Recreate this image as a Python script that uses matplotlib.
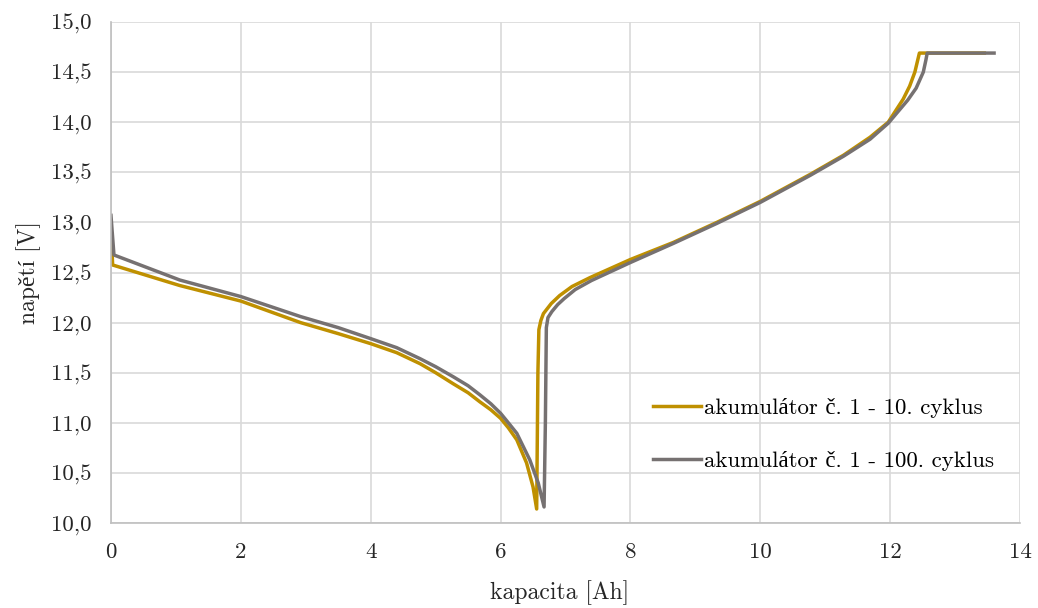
import matplotlib
matplotlib.use("Agg")
import matplotlib.pyplot as plt
from matplotlib.ticker import FuncFormatter

plt.rcParams['font.family'] = ['cmr10', 'Liberation Serif']
plt.rcParams['axes.formatter.use_mathtext'] = True

# akumulátor č. 1 - 10. cyklus
cap_10 = [0.0, 0.026, 1.06, 2.0, 2.92, 3.5, 4.0, 4.4, 4.76, 5.0, 5.27, 5.5, 5.68, 5.85, 6.0,
          6.12, 6.25, 6.40, 6.50, 6.556, 6.575, 6.59, 6.62, 6.66, 6.78, 6.91, 7.1, 7.38, 8.0,
          8.66, 9.33, 10.0, 10.77, 11.28, 11.69, 11.97, 12.2, 12.3, 12.38, 12.45, 13.45]
volt_10 = [12.93, 12.575, 12.37, 12.215, 12.0, 11.89, 11.79, 11.70, 11.59, 11.50, 11.39, 11.30,
           11.21, 11.13, 11.045, 10.95, 10.83, 10.60, 10.36, 10.14, 11.5, 11.93, 12.02, 12.09,
           12.19, 12.27, 12.36, 12.45, 12.63, 12.80, 13.0, 13.21, 13.48, 13.67, 13.85, 14.0,
           14.23, 14.36, 14.5, 14.69, 14.69]

# akumulátor č. 1 - 100. cyklus
cap_100 = [0.0, 0.046, 1.06, 2.0, 2.92, 3.5, 4.0, 4.4, 4.76, 5.0, 5.27, 5.5, 5.68, 5.85, 6.0,
           6.12, 6.25, 6.45, 6.58, 6.67, 6.69, 6.705, 6.73, 6.79, 6.88, 6.98, 7.15, 7.4, 8.0,
           8.66, 9.33, 10.0, 10.77, 11.28, 11.69, 11.97, 12.27, 12.4, 12.51, 12.55, 12.57, 13.6]
volt_100 = [13.07, 12.675, 12.425, 12.26, 12.06, 11.95, 11.84, 11.75, 11.64, 11.56, 11.46,
            11.37, 11.28, 11.19, 11.095, 11.0, 10.895, 10.63, 10.40, 10.16, 11.0, 11.95, 12.05,
            12.11, 12.18, 12.24, 12.33, 12.42, 12.60, 12.79, 12.99, 13.20, 13.47, 13.66, 13.83,
            13.99, 14.22, 14.34, 14.5, 14.62, 14.69, 14.69]

labels = ['akumulátor č. 1 - 10. cyklus', 'akumulátor č. 1 - 100. cyklus']
colors = ['#BF9000', '#767171']

fig = plt.figure(figsize=(10.38, 6.08), dpi=100)
ax = fig.add_axes([0.1069, 0.1398, 0.8758, 0.8240])

ax.plot(cap_10, volt_10, color=colors[0], lw=2.5, label=labels[0], solid_joinstyle='round')
ax.plot(cap_100, volt_100, color=colors[1], lw=2.5, label=labels[1], solid_joinstyle='round')

ax.set_xlim(0, 14)
ax.set_ylim(10, 15)
ax.set_xticks(range(0, 15, 2))
ax.set_yticks([10 + 0.5 * i for i in range(11)])
ax.yaxis.set_major_formatter(FuncFormatter(lambda v, _: f'{v:.1f}'.replace('.', ',')))
ax.xaxis.set_major_formatter(FuncFormatter(lambda v, _: f'{v:.0f}'))
ax.tick_params(length=0, labelsize=16.5, colors='#262626')
ax.tick_params(axis='y', pad=14)
ax.tick_params(axis='x', pad=14)

ax.grid(True, color='#d9d9d9', lw=1.2)
ax.set_axisbelow(True)
for s in ['top', 'right']:
    ax.spines[s].set_visible(False)
for s in ['left', 'bottom']:
    ax.spines[s].set_color('#bfbfbf')
    ax.spines[s].set_linewidth(1.2)

ax.set_xlabel('kapacita [Ah]', fontsize=17, color='#262626')
ax.set_ylabel('napětí [V]', fontsize=17, color='#262626', labelpad=7)
ax.xaxis.set_label_coords(0.493, -0.115)

fig.legend(loc='center left', bbox_to_anchor=(0.629, 0.2854), bbox_transform=fig.transFigure,
           frameon=False, fontsize=16.5, handlelength=2.1, handletextpad=0.15,
           labelspacing=1.45, borderpad=0, borderaxespad=0)

fig.savefig('out.png', dpi=100)
